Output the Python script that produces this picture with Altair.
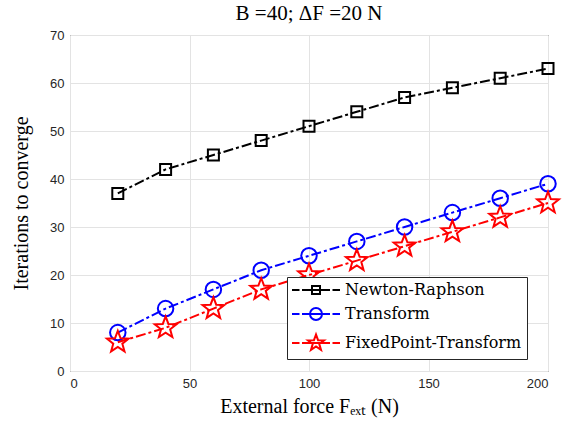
import math
import altair as alt
import pandas as pd

# ---- data ----
force = [20, 40, 60, 80, 100, 120, 140, 160, 180, 200]
newton_raphson = [37, 42, 45, 48, 51, 54, 57, 59, 61, 63]
transform = [8, 13, 17, 21, 24, 27, 30, 33, 36, 39]
fixed_point = [6, 9, 13, 17, 20, 23, 26, 29, 32, 35]
series = ["Newton-Raphson", "Transform", "FixedPoint-Transform"]
colors = ["#000000", "#0000ff", "#ff0000"]
x_ticks = [0, 50, 100, 150, 200]
y_ticks = [0, 10, 20, 30, 40, 50, 60, 70]

rows = []
for name, vals in zip(series, [newton_raphson, transform, fixed_point]):
    for xv, yv in zip(force, vals):
        rows.append({"force": xv, "iters": yv, "method": name})
df = pd.DataFrame(rows)


def star_path(r_out, r_in):
    pts = []
    for i in range(10):
        r = r_out if i % 2 == 0 else r_in
        a = math.pi / 2 + i * math.pi / 5
        pts.append((r * math.cos(a), -r * math.sin(a)))
    return "M" + "L".join(f"{px:.3f},{py:.3f}" for px, py in pts) + "Z"


def circle_path(r):
    return f"M{r},0A{r},{r} 0 1,1 {-r},0A{r},{r} 0 1,1 {r},0Z"


leg_line = "M-4.8,0H-3.3M-2.8,0H2.8M3.3,0H4.8"
legend_shapes = [
    leg_line + "M-0.8,-0.8H0.8V0.8H-0.8Z",
    leg_line + circle_path(1.2),
    leg_line + star_path(1.7, 0.7),
]

x_enc = alt.X("force:Q", scale=alt.Scale(domain=[0, 200], nice=False),
              axis=alt.Axis(values=x_ticks, title="External force Fₑₓₜ (N)"))
y_enc = alt.Y("iters:Q", scale=alt.Scale(domain=[0, 70], nice=False),
              axis=alt.Axis(values=y_ticks, title="Iterations to converge"))

marker_specs = [("square", 121), ("circle", 240), (star_path(1.0, 0.42), 520)]
layers = []
for name, col, (shp, sz) in zip(series, colors, marker_specs):
    base = alt.Chart(df).transform_filter(alt.datum.method == name)
    layers.append(base.mark_line(strokeWidth=2, strokeDash=[10, 3, 3, 3], color=col)
                  .encode(x=x_enc, y=y_enc))
    layers.append(base.mark_point(shape=shp, size=sz, filled=False, strokeWidth=2,
                                  opacity=1, color=col)
                  .encode(x=x_enc, y=y_enc))

leg = alt.Legend(title=None, orient="none", legendX=217, legendY=242,
                 labelFont="DejaVu Serif", labelFontSize=16, labelColor="#000000")
legend_layer = alt.Chart(df).transform_filter("false").mark_point(
    filled=False, strokeWidth=2, opacity=1
).encode(
    x=x_enc, y=y_enc,
    color=alt.Color("method:N", scale=alt.Scale(domain=series, range=colors), legend=leg),
    shape=alt.Shape("method:N", scale=alt.Scale(domain=series, range=legend_shapes), legend=leg),
)

chart = alt.layer(*layers, legend_layer).properties(
    width=478, height=336,
    autosize="none",
    padding={"left": 70, "top": 35, "right": 17, "bottom": 60},
    title=alt.Title("B =40; ΔF =20 N", font="Liberation Serif", fontSize=21,
                    fontWeight="normal", color="#000000", offset=5),
).configure_view(stroke="#262626", strokeWidth=1).configure_axis(
    grid=True, gridColor="#e3e3e3", gridWidth=1,
    domain=False, ticks=False,
    labelFont="Liberation Sans", labelFontSize=13, labelColor="#262626",
    labelPadding=6,
    titleFont="Liberation Serif", titleFontSize=20, titleFontWeight="normal",
    titleColor="#000000",
).configure_axisY(titlePadding=18).configure_axisX(titlePadding=6).configure_legend(
    strokeColor="#262626", fillColor="white",
    padding=5, symbolSize=100, symbolStrokeWidth=2,
    symbolOffset=16, labelOffset=21,
    labelFont="DejaVu Serif", labelFontSize=16,
    labelColor="#000000", rowPadding=6, labelLimit=400,
)

chart.save("out.html", embed_options={"renderer": "svg", "actions": False})
